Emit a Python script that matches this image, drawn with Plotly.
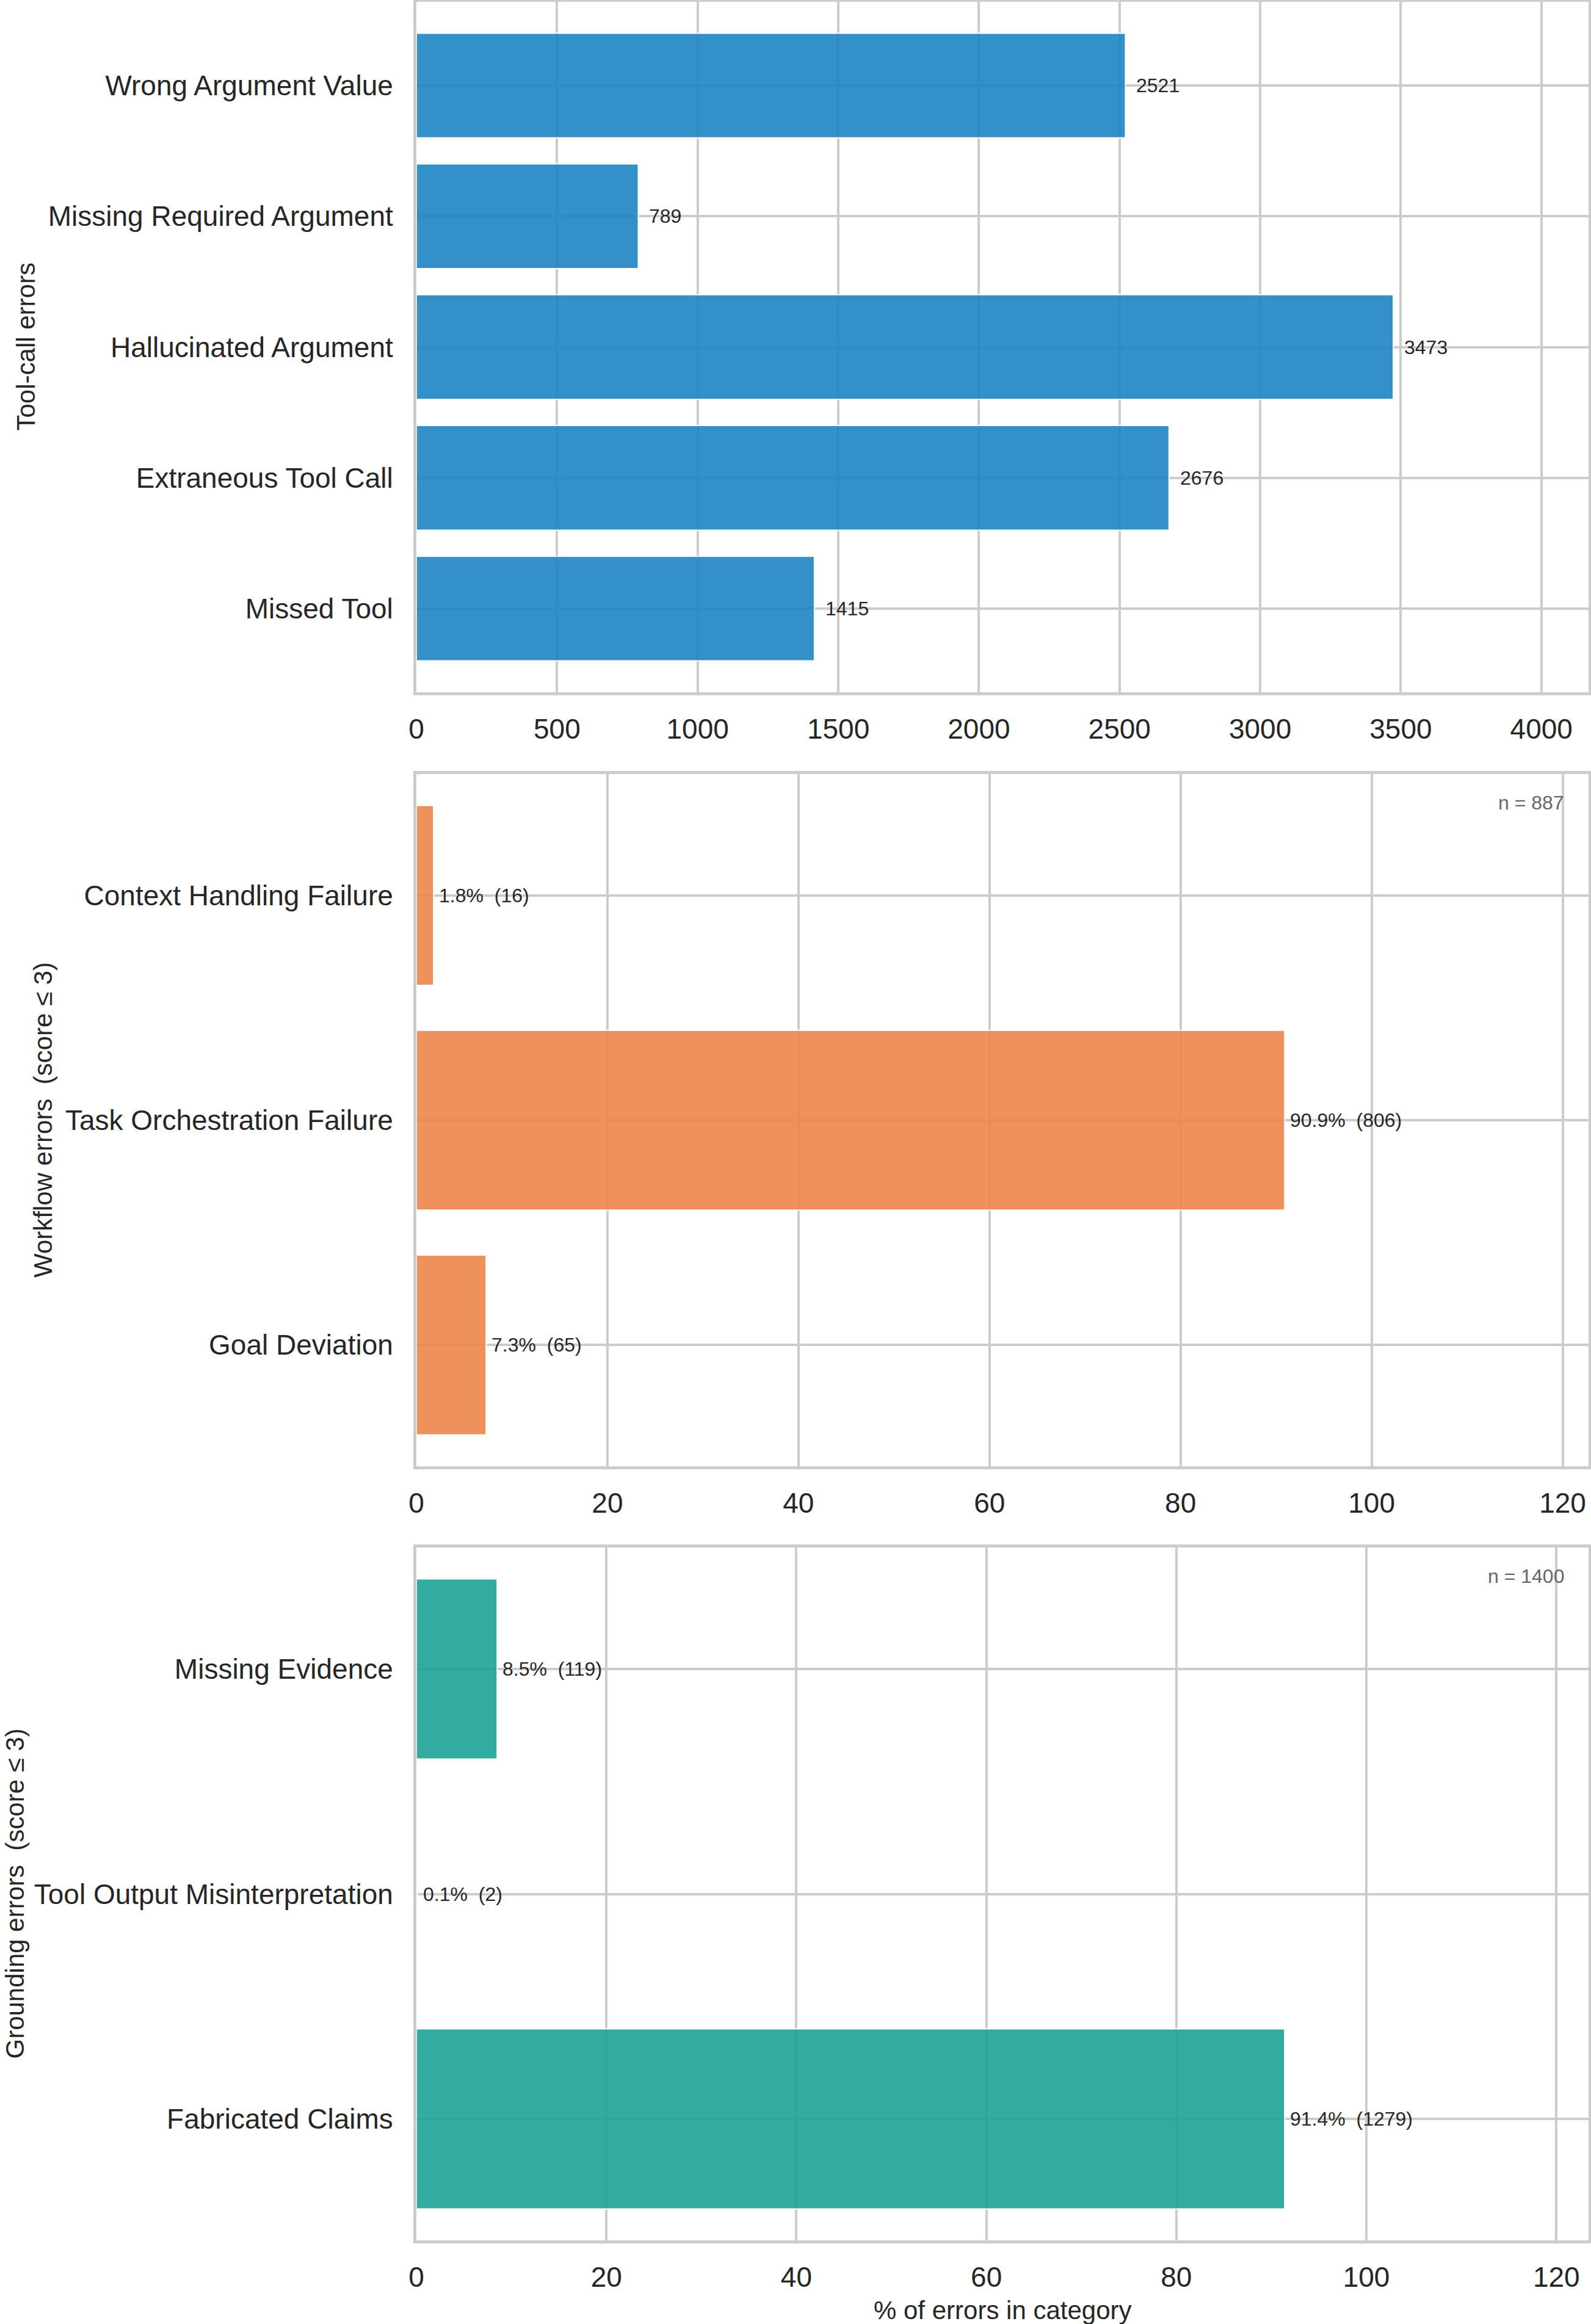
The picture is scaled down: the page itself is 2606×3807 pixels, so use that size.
import plotly.graph_objects as go

# ---------------- data ----------------
tool_cats = ["Wrong Argument Value", "Missing Required Argument", "Hallucinated Argument",
             "Extraneous Tool Call", "Missed Tool"]
tool_counts = [2521, 789, 3473, 2676, 1415]

wf_cats = ["Context Handling Failure", "Task Orchestration Failure", "Goal Deviation"]
wf_pct = [1.8, 90.9, 7.3]
wf_counts = [16, 806, 65]
wf_n = 887

gr_cats = ["Missing Evidence", "Tool Output Misinterpretation", "Fabricated Claims"]
gr_pct = [8.5, 0.1, 91.4]
gr_counts = [119, 2, 1279]
gr_n = 1400

# ---------------- style ----------------
W, H = 2606, 3807
ML, MR, MT, MB = 682, 4, 3, 137
PH = H - MT - MB
PW = W - ML - MR
FONT = "Liberation Sans, Arial, Helvetica, sans-serif"
TXT = "#262626"
GRID = "#cccccc"
BLUE = "#1d84c3"
ORANGE = "#ee864c"
TEAL = "#1ca496"


def ydom(top_px, bot_px):
    return [(H - MB - bot_px) / PH, (H - MB - top_px) / PH]


def xpaper(px):
    return (px - ML) / PW


panels = [
    dict(cats=tool_cats, vals=tool_counts, color=BLUE,
         labels=[str(v) for v in tool_counts], xr=[0, max(tool_counts) * 1.2], dtick=500,
         dom=ydom(3, 1134), shift=16, title="Tool-call errors", tx=42, n=None),
    dict(cats=wf_cats, vals=wf_pct, color=ORANGE,
         labels=[f"{p:.1f}%\u00a0 ({c})" for p, c in zip(wf_pct, wf_counts)],
         xr=[0, max(wf_pct) * 1.35], dtick=20,
         dom=ydom(1268, 2402), shift=7, title="Workflow errors\u00a0 (score \u2264 3)", tx=70, n=wf_n),
    dict(cats=gr_cats, vals=gr_pct, color=TEAL,
         labels=[f"{p:.1f}%\u00a0 ({c})" for p, c in zip(gr_pct, gr_counts)],
         xr=[0, max(gr_pct) * 1.35], dtick=20,
         dom=ydom(2535, 3670), shift=7, title="Grounding errors\u00a0 (score \u2264 3)", tx=24, n=gr_n),
]

fig = go.Figure()
annotations = []
layout = {}

for i, p in enumerate(panels, start=1):
    sx = "" if i == 1 else str(i)
    xa, ya = "x" + sx, "y" + sx
    fig.add_trace(go.Bar(
        x=p["vals"], y=p["cats"], orientation="h", xaxis=xa, yaxis=ya,
        width=0.8, marker=dict(color=p["color"], opacity=0.9,
                               line=dict(color="white", width=2)),
        showlegend=False, hoverinfo="skip"))
    ncat = len(p["cats"])
    pad = (ncat - 1 + 0.8) * 0.05
    layout["xaxis" + sx] = dict(
        domain=[0, 1], anchor=ya, range=p["xr"], dtick=p["dtick"], tick0=0,
        showgrid=True, gridcolor=GRID, gridwidth=3.5, zeroline=False,
        showline=True, mirror=True, linecolor=GRID, linewidth=5,
        ticks="", ticklabelstandoff=16,
        tickfont=dict(family=FONT, size=46, color=TXT))
    layout["yaxis" + sx] = dict(
        domain=p["dom"], anchor=xa, type="category",
        categoryorder="array", categoryarray=p["cats"],
        range=[ncat - 1 + 0.4 + pad, -0.4 - pad],
        showgrid=True, gridcolor=GRID, gridwidth=3.5, zeroline=False,
        showline=True, mirror=True, linecolor=GRID, linewidth=5,
        ticks="", ticklabelstandoff=24,
        tickfont=dict(family=FONT, size=46, color=TXT))
    for v, c, lab in zip(p["vals"], p["cats"], p["labels"]):
        annotations.append(dict(
            x=v, y=c, xref=xa, yref=ya, text=lab, showarrow=False,
            xanchor="left", yanchor="middle", xshift=p["shift"],
            font=dict(family=FONT, size=32, color=TXT)))
    # y-axis title
    ymid = (p["dom"][0] + p["dom"][1]) / 2
    annotations.append(dict(
        x=xpaper(p["tx"]), y=ymid, xref="paper", yref="paper", text=p["title"],
        textangle=-90, showarrow=False, xanchor="center", yanchor="middle",
        font=dict(family=FONT, size=42, color=TXT)))
    if p["n"] is not None:
        annotations.append(dict(
            x=0.98, y=1 - 47 / 1134, xref=xa + " domain", yref=ya + " domain",
            text=f"n = {p['n']}", showarrow=False, xanchor="right", yanchor="middle",
            font=dict(family=FONT, size=32, color="#666666")))

# x title on bottom panel
annotations.append(dict(
    x=0.5, y=(H - MB - 3784) / PH, xref="paper", yref="paper",
    text="% of errors in category", showarrow=False, xanchor="center", yanchor="middle",
    font=dict(family=FONT, size=42, color=TXT)))

fig.update_layout(
    width=W, height=H, margin=dict(l=ML, r=MR, t=MT, b=MB, autoexpand=False),
    paper_bgcolor="white", plot_bgcolor="white", bargap=0.2,
    annotations=annotations, **layout)

fig.write_html("out.html")
